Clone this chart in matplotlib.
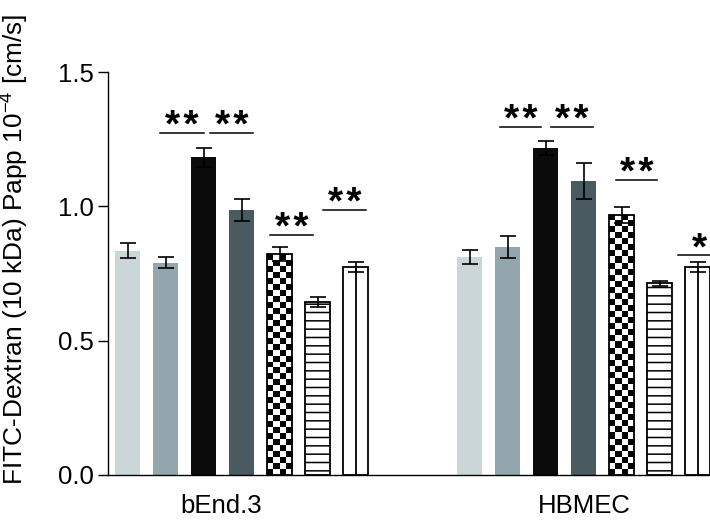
import numpy as np
import matplotlib.pyplot as plt
from matplotlib.patches import Rectangle

plt.rcParams['font.family'] = ['Liberation Sans', 'DejaVu Sans']
plt.rcParams['mathtext.fontset'] = 'custom'
plt.rcParams['mathtext.rm'] = 'Liberation Sans'
plt.rcParams['mathtext.default'] = 'regular'
plt.rcParams['hatch.linewidth'] = 1.1

# data
groups = ['bEnd.3', 'HBMEC']
means = [
    [0.835, 0.790, 1.183, 0.986, 0.822, 0.644, 0.774],
    [0.811, 0.849, 1.217, 1.094, 0.968, 0.714, 0.774],
]
errs = [
    [0.028, 0.020, 0.035, 0.042, 0.025, 0.020, 0.020],
    [0.025, 0.040, 0.025, 0.068, 0.030, 0.010, 0.020],
]
# (group, from bar, to bar, height, label)
sig = [
    (0, 0.84, 2.00, 1.273, '**'),
    (0, 2.16, 3.29, 1.273, '**'),
    (0, 3.74, 4.87, 0.893, '**'),
    (0, 5.13, 6.26, 0.986, '**'),
    (1, 0.79, 1.87, 1.295, '**'),
    (1, 2.13, 3.24, 1.295, '**'),
    (1, 3.84, 4.92, 1.098, '**'),
    (1, 5.47, 6.60, 0.819, '*'),
]

fills = ['#cad6d7', '#93a5ad', '#0b0b0b', '#4a5a61', 'check', '--', 'vline']
group_gap = 9
width = 0.66

fig = plt.figure(figsize=(7.1, 5.26), dpi=100)
ax = fig.add_axes([0.152, 0.097, 0.876, 0.766])

for g, name in enumerate(groups):
    for i, (m, e) in enumerate(zip(means[g], errs[g])):
        x = g * group_gap + i
        style = fills[i]
        if style.startswith('#'):
            ax.bar(x, m, width, color=style, zorder=2)
        elif style == '--':
            ax.bar(x, m, width, color='white', edgecolor='black', hatch='--',
                   linewidth=1.3, zorder=2)
        elif style == 'vline':
            ax.bar(x, m, width, color='white', edgecolor='black',
                   linewidth=1.3, zorder=2)
            ax.vlines(x, 0, m, color='black', linewidth=1.3, zorder=3)
        else:
            # checkerboard fill, clipped to the bar
            rect = Rectangle((x - width / 2, 0), width, m, transform=ax.transData)
            nrows = int(round(m / 0.0225))
            board = (np.add.outer(np.arange(nrows), np.arange(4)) % 2)
            im = ax.imshow(board, cmap='gray', extent=(x - width / 2, x + width / 2, 0, m),
                           interpolation='nearest', aspect='auto', zorder=2)
            im.set_clip_path(rect)
            ax.bar(x, m, width, color='none', edgecolor='black', linewidth=1.3, zorder=3)
        ax.errorbar(x, m, yerr=e, color='black', capsize=6, elinewidth=1.2,
                    capthick=1.2, zorder=4)

for g, a, b, y, label in sig:
    x0 = g * group_gap + a
    x1 = g * group_gap + b
    ax.plot([x0, x1], [y, y], color='black', linewidth=1.1, clip_on=False)
    ax.annotate(label.replace('**', '*\u200a*'), ((x0 + x1) / 2, y), xytext=(0, -3),
                textcoords='offset points', ha='center', va='baseline',
                fontsize=28, fontweight='bold', annotation_clip=False)

ax.set_xlim(-0.526, 15.84)
ax.set_ylim(0, 1.5)
ax.set_yticks([0, 0.5, 1.0, 1.5])
ax.set_yticklabels(['0.0', '0.5', '1.0', '1.5'])
label_shift = [-0.55, 0]
ax.set_xticks([g * group_gap + 3 + label_shift[g] for g in range(len(groups))])
ax.set_xticklabels(groups)
ax.tick_params(axis='x', length=0, pad=14, labelsize=18.5)
ax.tick_params(axis='y', length=7, width=1, pad=3, labelsize=18.5)
ax.spines['top'].set_visible(False)
ax.spines['right'].set_visible(False)
ax.spines['left'].set_linewidth(1)
ax.spines['bottom'].set_linewidth(1)
ax.set_ylabel('FITC-Dextran (10 kDa) Papp 10$^{-4}$ [cm/s]', fontsize=18.9)
ax.yaxis.set_label_coords(-0.123, 0.56)

fig.savefig('out.png', dpi=100)
